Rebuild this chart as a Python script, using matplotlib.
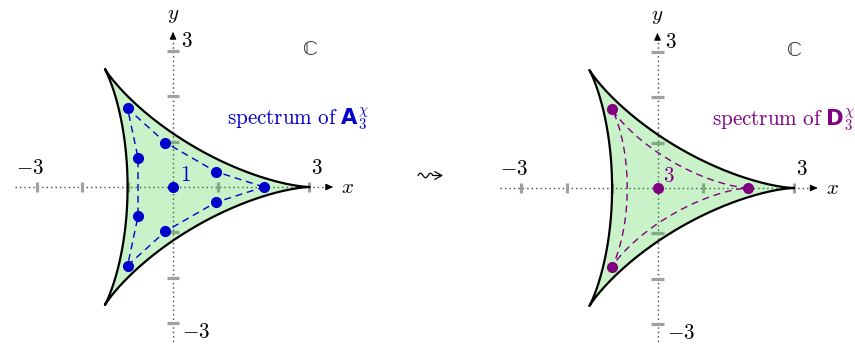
import numpy as np
import matplotlib
matplotlib.use("Agg")
import matplotlib.pyplot as plt

plt.rcParams["mathtext.fontset"] = "cm"
plt.rcParams["font.family"] = ["cmr10", "DejaVu Sans"]
plt.rcParams["axes.formatter.use_mathtext"] = True
# "custom" math family, used only for the spectrum captions
plt.rcParams["mathtext.rm"] = "cmr10"
plt.rcParams["mathtext.it"] = "cmmi10"
plt.rcParams["mathtext.sf"] = "DejaVu Sans:bold"
plt.rcParams["mathtext.fallback"] = "cm"

# ---- data -------------------------------------------------------------
deltoid_cusp = 3.0          # outer region: deltoid with cusps at 3, 3w, 3w^2
inner_cusp = 2.0            # dashed curve on the right panel
tick_values = [-3, -2, -1, 1, 2, 3]

# spectrum of A_3^chi (left)
spec_A_re = [0.0, 2.0, -1.0, -1.0, 0.94, 0.94, -0.17, -0.17, -0.77, -0.77]
spec_A_im = [0.0, 0.0, 1.73, -1.73, 0.34, -0.34, 0.98, -0.98, 0.64, -0.64]
path_A = [1, 4, 6, 2, 8, 9, 3, 7, 5, 1]
mult_A = "1"

# spectrum of D_3^chi (right)
spec_D_re = [0.0, 2.0, -1.0, -1.0]
spec_D_im = [0.0, 0.0, 1.73, -1.73]
mult_D = "3"

BLUE = "#0000cc"
PURPLE = "#800080"
FS = 15.2

W, H = 855, 345
S = 45.4  # pixels per unit


def deltoid(r, n=600):
    t = np.linspace(0, 2 * np.pi, n)
    a = r / 3.0
    return a * (2 * np.cos(t) + np.cos(2 * t)), a * (2 * np.sin(t) - np.sin(2 * t))


def make_axes(fig, ox, oy, left_px, right_px):
    ax = fig.add_axes([left_px / W, 0, (right_px - left_px) / W, 1])
    ax.set_xlim((left_px - ox) / S, (right_px - ox) / S)
    ax.set_ylim(-(H - oy) / S, oy / S)
    ax.set_aspect("auto")
    ax.axis("off")
    return ax


def frame(ax):
    # dotted axes
    ax.plot([-3.48, 3.45], [0, 0], color="#444444", lw=1.0,
            ls=(0, (1, 2.2)), zorder=1)
    ax.plot([0, 0], [-3.7, 3.35], color="#444444", lw=1.0,
            ls=(0, (1, 2.2)), zorder=1)
    ax.annotate("", xy=(3.53, 0), xytext=(3.40, 0),
                arrowprops=dict(arrowstyle="-|>,head_length=0.45,head_width=0.2",
                                color="black", lw=0.7, shrinkA=0, shrinkB=0),
                zorder=2)
    ax.annotate("", xy=(0, 3.42), xytext=(0, 3.29),
                arrowprops=dict(arrowstyle="-|>,head_length=0.45,head_width=0.2",
                                color="black", lw=0.7, shrinkA=0, shrinkB=0),
                zorder=2)
    # tick bars
    for v in tick_values:
        ax.plot([v, v], [-0.11, 0.11], color="#a0a0a0", lw=2.3,
                solid_capstyle="butt", zorder=1.5)
        ax.plot([-0.14, 0.14], [v, v], color="#a0a0a0", lw=2.3,
                solid_capstyle="butt", zorder=1.5)
    # region
    dx, dy = deltoid(deltoid_cusp)
    ax.fill(dx, dy, color="#32cd32", alpha=0.26, lw=0, zorder=3)
    ax.plot(dx, dy, color="black", lw=1.6, zorder=4)
    # labels
    ax.text(-3.15, 0.2, r"$-3$", fontsize=FS, ha="center", va="bottom")
    ax.text(3.17, 0.2, r"$3$", fontsize=FS, ha="center", va="bottom")
    ax.text(3.85, 0.0, r"$x$", fontsize=FS, ha="center", va="center")
    ax.text(0.0, 3.78, r"$y$", fontsize=FS, ha="center", va="center")
    ax.text(0.17, 3.2, r"$3$", fontsize=FS, ha="left", va="center")
    ax.text(0.2, -3.2, r"$-3$", fontsize=FS, ha="left", va="center")
    ax.text(3.0, 3.02, "\u2102", fontsize=FS, family="STIXGeneral",
            color="#333333", ha="center", va="center")


fig = plt.figure(figsize=(W / 100, H / 100), dpi=100)

# left panel
axL = make_axes(fig, 173, 187, 0, 400)
frame(axL)
px = [spec_A_re[i] for i in path_A]
py = [spec_A_im[i] for i in path_A]
axL.plot(px, py, color=BLUE, lw=1.0, ls=(0, (5, 3.5)), zorder=5)
axL.plot(spec_A_re, spec_A_im, "o", color=BLUE, ms=7, zorder=6)
axL.text(0.27, 0.27, r"$%s$" % mult_A, color=BLUE, fontsize=FS,
         ha="center", va="center", zorder=7)
axL.text(1.2, 1.5, r"$\mathrm{spectrum\ of}\ \mathsf{A}_{3}^{\chi}$",
         color=BLUE, fontsize=FS, math_fontfamily="custom",
         ha="left", va="center")

# right panel
axR = make_axes(fig, 657.5, 188, 455, 855)
frame(axR)
ix, iy = deltoid(inner_cusp)
axR.plot(ix, iy, color=PURPLE, lw=1.0, ls=(0, (5, 3.5)), zorder=5)
axR.plot(spec_D_re, spec_D_im, "o", color=PURPLE, ms=7, zorder=6)
axR.text(0.25, 0.27, r"$%s$" % mult_D, color=PURPLE, fontsize=FS,
         ha="center", va="center", zorder=7)
axR.text(1.19, 1.5, r"$\mathrm{spectrum\ of}\ \mathsf{D}_{3}^{\chi}$",
         color=PURPLE, fontsize=FS, math_fontfamily="custom",
         ha="left", va="center")

# transition arrow (leadsto) between the panels, drawn in pixel space
axO = fig.add_axes([0, 0, 1, 1])
axO.set_xlim(0, W)
axO.set_ylim(H, 0)
axO.axis("off")
wx = np.linspace(418, 433, 60)
wy = 175.5 - 2.2 * np.sin((wx - 418) / 15 * 3 * np.pi)
axO.plot(wx, wy, color="black", lw=0.9, solid_capstyle="round")
axO.annotate("", xy=(443, 175.5), xytext=(433, 175.5),
             arrowprops=dict(arrowstyle="->,head_length=0.5,head_width=0.28",
                             color="black", lw=0.9, shrinkA=0, shrinkB=0))

fig.savefig("out.png", dpi=100)
